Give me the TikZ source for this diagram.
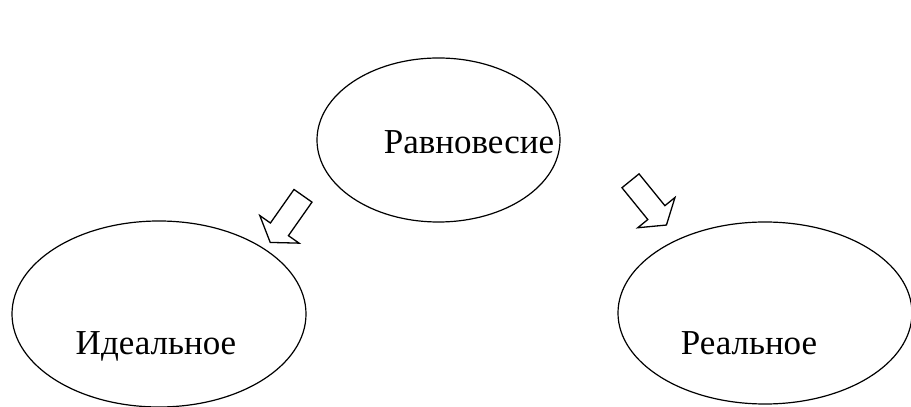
\documentclass[tikz,border=0pt]{standalone}
\usepackage{fontspec}
\setmainfont{Liberation Serif}
\usetikzlibrary{shapes.geometric}
\tikzset{
  oval/.style={draw, ellipse, line width=1.2pt, inner sep=0pt},
  lbl/.style={anchor=base, inner sep=0pt, font=\fontsize{35}{40}\selectfont},
  blockarrow/.pic={\draw[line width=1.3pt, line join=miter]
     (0,-11) -- (41,-11) -- (41,-24) -- (57,0) -- (41,24) -- (41,11) -- (0,11) -- cycle;}
}
\begin{document}
\begin{tikzpicture}[x=1pt,y=1pt]
\useasboundingbox (0,0) rectangle (911,407);
\node[oval, minimum width=243pt, minimum height=164pt] (top) at (438.5,267) {};
\node[oval, minimum width=294pt, minimum height=186pt] (left) at (159,93) {};
\node[oval, minimum width=294pt, minimum height=182pt] (right) at (765,94) {};
\node[lbl] (ttop) at (469,253) {Равновесие};
\node[lbl] (tleft) at (156,52) {Идеальное};
\node[lbl] (tright) at (749,52) {Реальное};
\coordinate (la) at (303,211.2);
\coordinate (ra) at (630.5,226.2);
\pic[rotate=234.9] at (la) {blockarrow};
\pic[rotate=-50.9] at (ra) {blockarrow};
\end{tikzpicture}
\end{document}
